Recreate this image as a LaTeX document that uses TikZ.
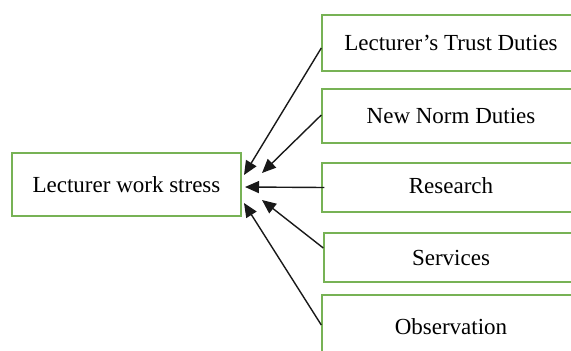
\documentclass[tikz,border=0pt]{standalone}
\usepackage{fontspec}
\setmainfont{Liberation Serif}
\usetikzlibrary{arrows.meta}
\definecolor{boxgreen}{HTML}{77B255}
\begin{document}
\begin{tikzpicture}[x=1pt,y=-1pt,
  gbox/.style={draw=boxgreen,line width=1.4pt,fill=white,inner sep=0pt,font=\fontsize{23}{26}\selectfont},
  conn/.style={draw=black!90,line width=1.4pt,-{Triangle[length=14pt,width=12pt]}}]
\useasboundingbox (0,0) rectangle (571,351);
\node[gbox,minimum width=229pt,minimum height=63pt] (main) at (126.5,184.5) {\raisebox{-2pt}{Lecturer work stress}};
\node[gbox,minimum width=258pt,minimum height=56pt] (b1) at (451,43) {\raisebox{-3pt}{Lecturer\symbol{39}s Trust Duties}};
\node[gbox,minimum width=258pt,minimum height=54pt] (b2) at (451,116) {New Norm Duties};
\node[gbox,minimum width=258pt,minimum height=49pt] (b3) at (451,187.5) {\raisebox{3pt}{Research}};
\node[gbox,minimum width=254pt,minimum height=49pt] (b4) at (451,257.5) {Services};
\node[gbox,minimum width=258pt,minimum height=64pt] (b5) at (451,327) {Observation};
\coordinate (t1) at (244,175);
\coordinate (t2) at (262,173);
\coordinate (t3) at (245,187);
\coordinate (t4) at (244,203);
\coordinate (t5) at (262,200);
\draw[conn] (b1.west |- 0,48) -- (t1);
\draw[conn] (b2.west |- 0,115) -- (t2);
\draw[conn] ([xshift=3pt]b3.west) -- (t3);
\draw[conn] (b4.west |- 0,248) -- (t5);
\draw[conn] (b5.west |- 0,325) -- (t4);
\end{tikzpicture}
\end{document}
